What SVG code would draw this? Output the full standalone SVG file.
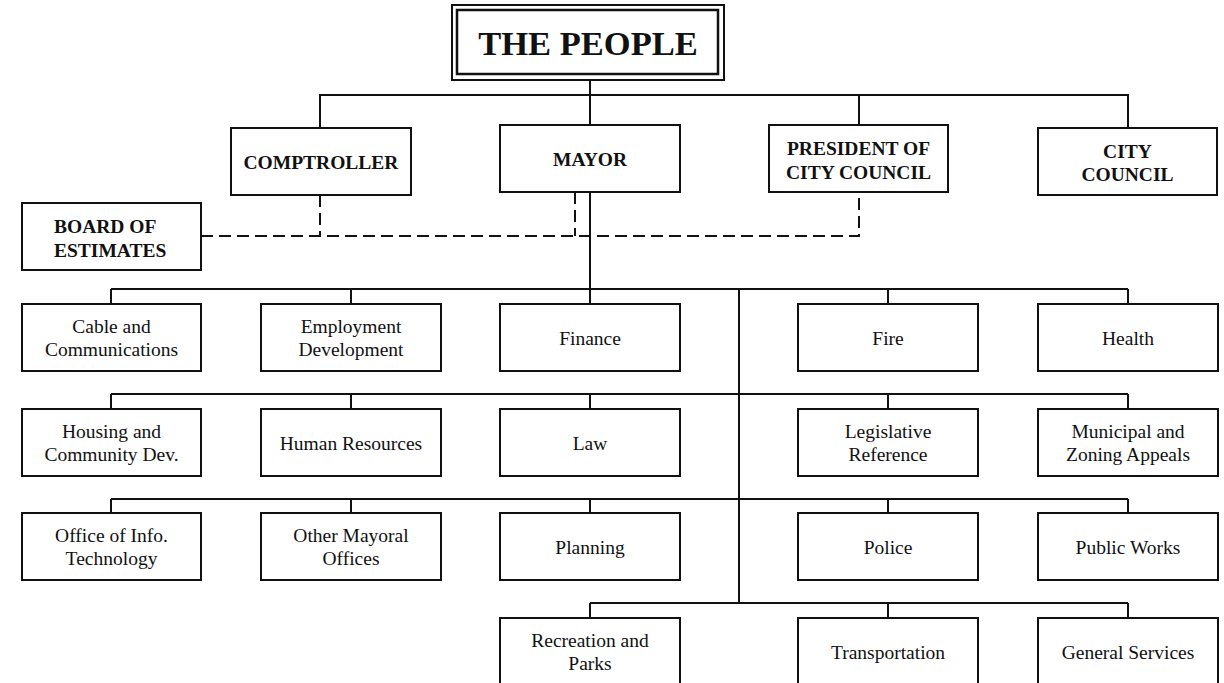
<svg xmlns="http://www.w3.org/2000/svg" width="1224" height="683" viewBox="0 0 1224 683">
  <style>
    .box { fill: #ffffff; stroke: #111111; stroke-width: 2; }
    .line { fill: none; stroke: #111111; stroke-width: 2; }
    .dash { fill: none; stroke: #111111; stroke-width: 2; stroke-dasharray: 12 6; }
    .title { font-family: "Liberation Serif", "Times New Roman", serif; font-size: 34.5px; font-weight: bold; text-anchor: middle; fill: #111111; }
    .head { font-family: "Liberation Serif", "Times New Roman", serif; font-size: 19.5px; font-weight: bold; text-anchor: middle; fill: #111111; }
    .dept { font-family: "Liberation Serif", "Times New Roman", serif; font-size: 19.5px; text-anchor: middle; fill: #111111; }
  </style>
  <rect width="1224" height="683" fill="#ffffff"/>

  <!-- connectors -->
  <g id="connectors">
    <!-- people to elected offices -->
    <line class="line" x1="590" y1="80" x2="590" y2="95"/>
    <polyline class="line" points="320,128 320,95 1128,95 1128,128"/>
    <line class="line" x1="590" y1="95" x2="590" y2="125"/>
    <line class="line" x1="859" y1="95" x2="859" y2="125"/>
    <!-- board of estimates membership -->
    <polyline class="dash" points="201,236 859,236 859,192"/>
    <line class="dash" x1="320" y1="195" x2="320" y2="236"/>
    <line class="dash" x1="575" y1="192" x2="575" y2="236"/>
    <!-- mayor to departments -->
    <line class="line" x1="590" y1="192" x2="590" y2="289"/>
    <line class="line" x1="739" y1="289" x2="739" y2="603"/>
    <!-- row 1 -->
    <line class="line" x1="111" y1="289" x2="1128" y2="289"/>
    <line class="line" x1="111" y1="289" x2="111" y2="304"/>
    <line class="line" x1="351" y1="289" x2="351" y2="304"/>
    <line class="line" x1="590" y1="289" x2="590" y2="304"/>
    <line class="line" x1="888" y1="289" x2="888" y2="304"/>
    <line class="line" x1="1128" y1="289" x2="1128" y2="304"/>
    <!-- row 2 -->
    <line class="line" x1="111" y1="394" x2="1128" y2="394"/>
    <line class="line" x1="111" y1="394" x2="111" y2="409"/>
    <line class="line" x1="351" y1="394" x2="351" y2="409"/>
    <line class="line" x1="590" y1="394" x2="590" y2="409"/>
    <line class="line" x1="888" y1="394" x2="888" y2="409"/>
    <line class="line" x1="1128" y1="394" x2="1128" y2="409"/>
    <!-- row 3 -->
    <line class="line" x1="111" y1="499" x2="1128" y2="499"/>
    <line class="line" x1="111" y1="499" x2="111" y2="513"/>
    <line class="line" x1="351" y1="499" x2="351" y2="513"/>
    <line class="line" x1="590" y1="499" x2="590" y2="513"/>
    <line class="line" x1="888" y1="499" x2="888" y2="513"/>
    <line class="line" x1="1128" y1="499" x2="1128" y2="513"/>
    <!-- row 4 -->
    <line class="line" x1="590" y1="603" x2="1128" y2="603"/>
    <line class="line" x1="590" y1="603" x2="590" y2="618"/>
    <line class="line" x1="888" y1="603" x2="888" y2="618"/>
    <line class="line" x1="1128" y1="603" x2="1128" y2="618"/>
  </g>

  <!-- top of the chart -->
  <g id="the-people">
    <rect x="452" y="5" width="272" height="75" fill="#ffffff" stroke="#111111" stroke-width="2"/>
    <rect x="457" y="10" width="261" height="64" fill="none" stroke="#111111" stroke-width="2.5"/>
    <text class="title" x="588" y="55">THE PEOPLE</text>
  </g>

  <!-- elected offices -->
  <g id="comptroller">
    <rect class="box" x="231" y="128" width="180" height="67"/>
    <text class="head" x="321" y="169">COMPTROLLER</text>
  </g>
  <g id="mayor">
    <rect class="box" x="500" y="125" width="180" height="67"/>
    <text class="head" x="590" y="166">MAYOR</text>
  </g>
  <g id="president-of-city-council">
    <rect class="box" x="769" y="125" width="179" height="67"/>
    <text class="head" x="858.5" y="155">PRESIDENT OF</text>
    <text class="head" x="858.5" y="179">CITY COUNCIL</text>
  </g>
  <g id="city-council">
    <rect class="box" x="1038" y="128" width="179" height="67"/>
    <text class="head" x="1127.5" y="157.5">CITY</text>
    <text class="head" x="1127.5" y="181">COUNCIL</text>
  </g>
  <g id="board-of-estimates">
    <rect class="box" x="22" y="203" width="179" height="67"/>
    <text class="head" x="54" y="233" style="text-anchor:start">BOARD OF</text>
    <text class="head" x="54" y="257" style="text-anchor:start">ESTIMATES</text>
  </g>

  <!-- departments, row 1 -->
  <g id="cable-and-communications">
    <rect class="box" x="22" y="304" width="179" height="67"/>
    <text class="dept" x="111.5" y="333">Cable and</text>
    <text class="dept" x="111.5" y="356">Communications</text>
  </g>
  <g id="employment-development">
    <rect class="box" x="261" y="304" width="180" height="67"/>
    <text class="dept" x="351" y="333">Employment</text>
    <text class="dept" x="351" y="356">Development</text>
  </g>
  <g id="finance">
    <rect class="box" x="500" y="304" width="180" height="67"/>
    <text class="dept" x="590" y="345">Finance</text>
  </g>
  <g id="fire">
    <rect class="box" x="798" y="304" width="180" height="67"/>
    <text class="dept" x="888" y="345">Fire</text>
  </g>
  <g id="health">
    <rect class="box" x="1038" y="304" width="180" height="67"/>
    <text class="dept" x="1128" y="345">Health</text>
  </g>

  <!-- departments, row 2 -->
  <g id="housing-and-community-dev">
    <rect class="box" x="22" y="409" width="179" height="67"/>
    <text class="dept" x="111.5" y="438">Housing and</text>
    <text class="dept" x="111.5" y="461">Community Dev.</text>
  </g>
  <g id="human-resources">
    <rect class="box" x="261" y="409" width="180" height="67"/>
    <text class="dept" x="351" y="450">Human Resources</text>
  </g>
  <g id="law">
    <rect class="box" x="500" y="409" width="180" height="67"/>
    <text class="dept" x="590" y="450">Law</text>
  </g>
  <g id="legislative-reference">
    <rect class="box" x="798" y="409" width="180" height="67"/>
    <text class="dept" x="888" y="438">Legislative</text>
    <text class="dept" x="888" y="461">Reference</text>
  </g>
  <g id="municipal-and-zoning-appeals">
    <rect class="box" x="1038" y="409" width="180" height="67"/>
    <text class="dept" x="1128" y="438">Municipal and</text>
    <text class="dept" x="1128" y="461">Zoning Appeals</text>
  </g>

  <!-- departments, row 3 -->
  <g id="office-of-info-technology">
    <rect class="box" x="22" y="513" width="179" height="67"/>
    <text class="dept" x="111.5" y="542">Office of Info.</text>
    <text class="dept" x="111.5" y="565">Technology</text>
  </g>
  <g id="other-mayoral-offices">
    <rect class="box" x="261" y="513" width="180" height="67"/>
    <text class="dept" x="351" y="542">Other Mayoral</text>
    <text class="dept" x="351" y="565">Offices</text>
  </g>
  <g id="planning">
    <rect class="box" x="500" y="513" width="180" height="67"/>
    <text class="dept" x="590" y="554">Planning</text>
  </g>
  <g id="police">
    <rect class="box" x="798" y="513" width="180" height="67"/>
    <text class="dept" x="888" y="554">Police</text>
  </g>
  <g id="public-works">
    <rect class="box" x="1038" y="513" width="180" height="67"/>
    <text class="dept" x="1128" y="554">Public Works</text>
  </g>

  <!-- departments, row 4 -->
  <g id="recreation-and-parks">
    <rect class="box" x="500" y="618" width="180" height="67"/>
    <text class="dept" x="590" y="647">Recreation and</text>
    <text class="dept" x="590" y="670">Parks</text>
  </g>
  <g id="transportation">
    <rect class="box" x="798" y="618" width="180" height="67"/>
    <text class="dept" x="888" y="659">Transportation</text>
  </g>
  <g id="general-services">
    <rect class="box" x="1038" y="618" width="180" height="67"/>
    <text class="dept" x="1128" y="659">General Services</text>
  </g>
</svg>
